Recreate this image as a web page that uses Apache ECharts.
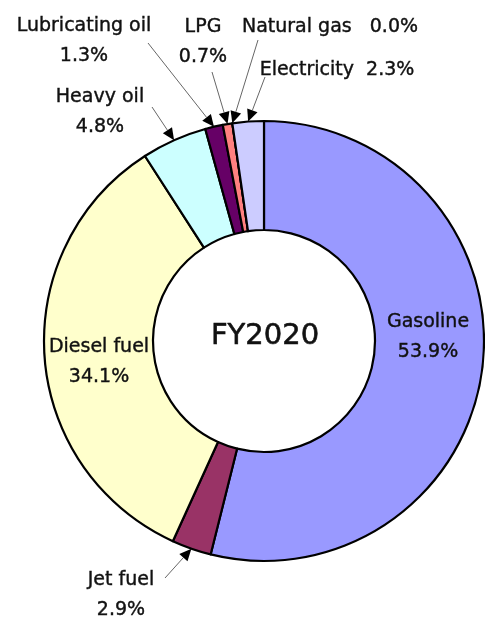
<!DOCTYPE html>
<html>
<head>
<meta charset="utf-8">
<script src="https://cdn.jsdelivr.net/npm/echarts@6/dist/echarts.min.js"></script>
<style>
  html, body { margin: 0; padding: 0; background: #fff; }
  #chart { width: 485px; height: 617px; }
</style>
</head>
<body>
<div id="chart"></div>
<script>
// data (share of energy use, %)
var names = ['Gasoline', 'Jet fuel', 'Diesel fuel', 'Heavy oil', 'Lubricating oil', 'LPG', 'Natural gas', 'Electricity'];
var shares = [53.9, 2.9, 34.1, 4.8, 1.3, 0.7, 0.0, 2.3];
var colors = ['#9999ff', '#993366', '#ffffcc', '#ccffff', '#660066', '#ff8080', '#ffffff', '#ccccff'];
var centerText = 'FY2020';

// label placement (label centre, separator, leader line start or null)
var labelPos = [
  { x: 428, y: 337, sep: '\n', from: null },
  { x: 121, y: 595, sep: '\n', from: [165, 578] },
  { x: 99,  y: 362, sep: '\n', from: null },
  { x: 100, y: 112, sep: '\n', from: [152, 107] },
  { x: 84,  y: 41,  sep: '\n', from: [148, 43] },
  { x: 203, y: 42,  sep: '\n', from: [212, 72] },
  { x: 330, y: 27,  sep: '   ', from: [258, 40] },
  { x: 337, y: 70,  sep: '  ', from: [265, 77] }
];

var font = 'DejaVu Sans';
var chart = echarts.init(document.getElementById('chart'));

var pieData = names.map(function (n, i) {
  return { name: n, value: shares[i], itemStyle: { color: colors[i] } };
});

chart.setOption({
  animation: false,
  series: [{
    type: 'pie',
    center: [264, 341],
    radius: [111, 220],
    startAngle: 90,
    clockwise: true,
    avoidLabelOverlap: false,
    data: pieData,
    itemStyle: { borderColor: '#000', borderWidth: 2.2 },
    label: {
      show: true,
      color: '#111',
      fontFamily: font,
      fontSize: 19,
      lineHeight: 30,
      align: 'center',
      textBorderColor: '#111',
      textBorderWidth: 0.4,
      formatter: function (p) {
        return p.name + labelPos[p.dataIndex].sep + p.value.toFixed(1) + '%';
      }
    },
    labelLine: { show: false },
    labelLayout: function (p) {
      var lp = labelPos[p.dataIndex];
      return { x: lp.x, y: lp.y, align: 'center', verticalAlign: 'middle' };
    },
    emphasis: { disabled: true }
  }]
});

// centre text plus leader lines with arrowheads aimed at each slice's outer edge
var sliceData = chart.getModel().getSeriesByIndex(0).getData();
var extras = [{
  type: 'text',
  x: 265, y: 336,
  style: {
    text: centerText, fill: '#111', font: '29px "' + font + '"',
    stroke: '#111', lineWidth: 0.6,
    textAlign: 'center', textVerticalAlign: 'middle'
  }
}];
labelPos.forEach(function (lp, i) {
  if (!lp.from) return;
  var l = sliceData.getItemLayout(i);
  var mid = (l.startAngle + l.endAngle) / 2;
  var tx = l.cx + l.r * Math.cos(mid), ty = l.cy + l.r * Math.sin(mid);
  var dx = tx - lp.from[0], dy = ty - lp.from[1];
  var len = Math.sqrt(dx * dx + dy * dy);
  var ux = dx / len, uy = dy / len;
  var bx = tx - ux * 12, by = ty - uy * 12;
  extras.push({
    type: 'line',
    shape: { x1: lp.from[0], y1: lp.from[1], x2: bx, y2: by },
    style: { stroke: '#666', lineWidth: 1 }
  });
  extras.push({
    type: 'polygon',
    shape: { points: [[tx, ty], [bx - uy * 5.5, by + ux * 5.5], [bx + uy * 5.5, by - ux * 5.5]] },
    style: { fill: '#000' }
  });
});
chart.setOption({ graphic: extras });
</script>
</body>
</html>
